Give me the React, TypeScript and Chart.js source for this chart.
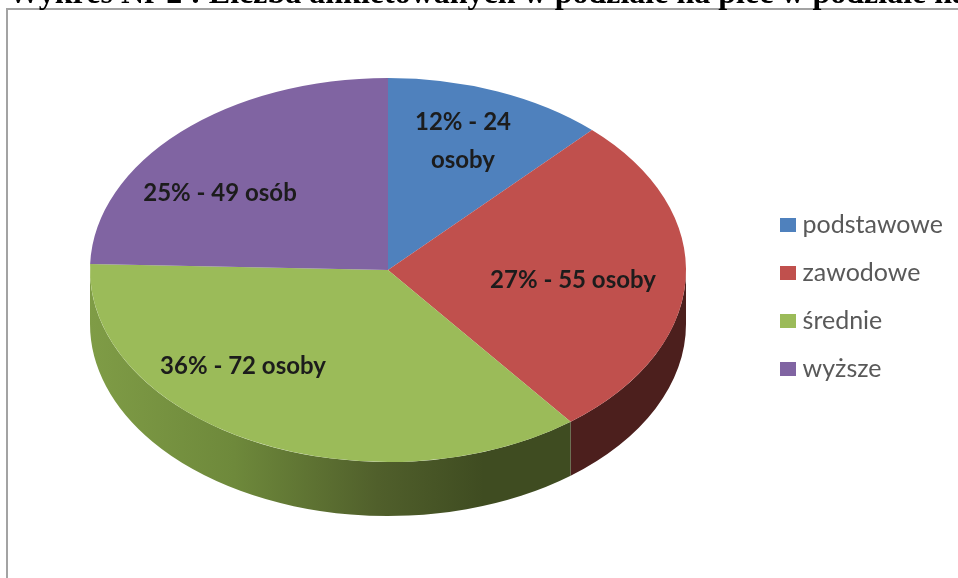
import React, { useEffect, useRef } from "react";
import { Chart, registerables } from "chart.js";

Chart.register(...registerables);

const categories = ["podstawowe", "zawodowe", "średnie", "wyższe"];
const respondents = [24, 55, 72, 49];
const sliceLabels = [["12% - 24", "osoby"], ["27% - 55 osoby"], ["36% - 72 osoby"], ["25% - 49 osób"]];
const colors = ["#4f81bd", "#c0504d", "#9bbb59", "#8064a2"];
const titleText = "Wykres Nr 2 : Liczba ankietowanych w podziale na płeć w podziale na";

// Layout of the tilted pie on the page
const PIE = { cx: 388, cy: 270, rx: 298, ry: 192, depth: 54 };
const LABEL_POS = [[463, 122], [573, 280], [243, 366], [220, 193]];
const TEXT_FONT = "Lato, 'Open Sans', sans-serif";

const swatch = (color: string) => {
  const c = document.createElement("canvas");
  c.width = 16;
  c.height = 14;
  const g = c.getContext("2d")!;
  g.fillStyle = color;
  g.fillRect(0, 0, 16, 14);
  return c;
};

const wallPaint = (ctx: CanvasRenderingContext2D, index: number) => {
  const { cx, rx } = PIE;
  if (index === 2) {
    const g = ctx.createLinearGradient(cx - rx, 0, cx + 182, 0);
    g.addColorStop(0, "#7f9c46");
    g.addColorStop(0.3, "#6e893b");
    g.addColorStop(0.6, "#505f2b");
    g.addColorStop(0.82, "#3f4c21");
    g.addColorStop(1, "#3f4c21");
    return g;
  }
  if (index === 1) return "#4c1f1d";
  return "#3a3a3a";
};

const tiltedPie = {
  id: "tiltedPie",
  beforeDraw(chart: any) {
    const { ctx } = chart;
    ctx.save();
    ctx.fillStyle = "#ffffff";
    ctx.fillRect(0, 0, 958, 578);
    ctx.strokeStyle = "#a3a3a3";
    ctx.lineWidth = 2;
    ctx.beginPath();
    ctx.moveTo(958, 9);
    ctx.lineTo(7, 9);
    ctx.lineTo(7, 578);
    ctx.stroke();
    ctx.fillStyle = "#000000";
    ctx.font = "bold 32px 'Liberation Serif', serif";
    ctx.textAlign = "left";
    ctx.textBaseline = "alphabetic";
    ctx.fillText(titleText, 8, 3);
    ctx.restore();
  },
  beforeDatasetsDraw(chart: any) {
    const { ctx } = chart;
    const { cx, cy, rx, ry, depth } = PIE;
    const arcs = chart.getDatasetMeta(0).data;
    arcs.forEach((arc: any, i: number) => {
      const s = arc.startAngle;
      const e = arc.endAngle;
      const a0 = Math.max(s, 0);
      const a1 = Math.min(e, Math.PI);
      if (a1 <= a0) return;
      ctx.save();
      ctx.beginPath();
      ctx.ellipse(cx, cy + depth, rx, ry, 0, a0, a1);
      ctx.ellipse(cx, cy, rx, ry, 0, a1, a0, true);
      ctx.closePath();
      ctx.fillStyle = wallPaint(ctx, i);
      ctx.fill();
      ctx.restore();
    });
    const first = arcs[0];
    ctx.save();
    ctx.translate(cx, cy);
    ctx.scale(rx / first.outerRadius, ry / first.outerRadius);
    ctx.translate(-first.x, -first.y);
  },
  afterDatasetsDraw(chart: any) {
    const { ctx } = chart;
    ctx.restore();
    ctx.save();
    ctx.fillStyle = "#1c1c1c";
    ctx.font = `bold 24px ${TEXT_FONT}`;
    ctx.textAlign = "center";
    ctx.textBaseline = "middle";
    sliceLabels.forEach((lines, i) => {
      lines.forEach((line, j) => {
        ctx.fillText(line, LABEL_POS[i][0], LABEL_POS[i][1] + j * 38);
      });
    });
    ctx.restore();
  },
};

export default function App() {
  const ref = useRef<HTMLCanvasElement>(null);
  useEffect(() => {
    const chart = new Chart(ref.current!, {
      type: "pie",
      data: {
        labels: categories,
        datasets: [{ data: respondents, backgroundColor: colors, borderWidth: 0 }],
      },
      plugins: [tiltedPie],
      options: {
        responsive: false,
        animation: false,
        layout: { padding: { top: 40, bottom: 24, left: 8, right: 5 } },
        plugins: {
          tooltip: { enabled: false },
          legend: {
            position: "right",
            labels: {
              usePointStyle: true,
              pointStyleWidth: 4,
              boxHeight: 14,
              padding: 23,
              color: "#595959",
              font: { family: TEXT_FONT, size: 25 },
              generateLabels(c: any) {
                const items = Chart.overrides.pie.plugins.legend.labels.generateLabels(c);
                return items.map((it: any, i: number) => ({ ...it, pointStyle: swatch(colors[i]) }));
              },
            },
          },
        },
      },
    } as any);
    return () => chart.destroy();
  }, []);
  return (
    <div style={{ position: "fixed", left: 0, top: 0, width: 958, height: 578, overflow: "hidden" }}>
      <canvas ref={ref} width={958} height={578} style={{ display: "block", filter: "blur(0.6px)" }} />
    </div>
  );
}
